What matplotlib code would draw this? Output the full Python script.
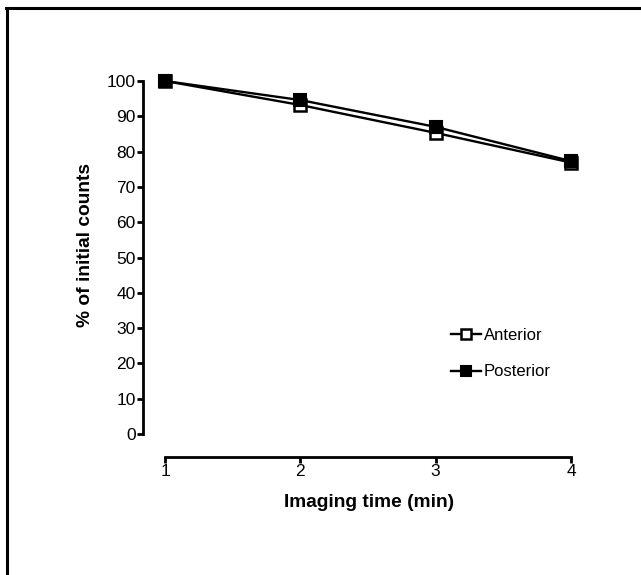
import matplotlib
matplotlib.use('Agg')
import matplotlib.pyplot as plt
from matplotlib.lines import Line2D

plt.rcParams['font.family'] = ['Liberation Sans', 'DejaVu Sans']

times = [1, 2, 3, 4]
anterior = [100, 93.2, 85.3, 76.9]
posterior = [100, 94.6, 87.0, 77.3]
yticks = list(range(0, 101, 10))

fig = plt.figure(figsize=(6.41, 5.75), dpi=100)
W, H = 641, 575

# outer frame (top and left edges only)
fig.add_artist(Line2D([6 / W, 1], [1 - 8 / H, 1 - 8 / H], color='black', lw=2.2, transform=fig.transFigure))
fig.add_artist(Line2D([7 / W, 7 / W], [0, 1 - 8 / H], color='black', lw=2.2, transform=fig.transFigure))

ax = fig.add_axes([165 / W, 1 - 434 / H, 406 / W, 353 / H])
ax.plot(times, anterior, color='black', lw=1.7, marker='s', ms=9,
        mfc='white', mec='black', mew=1.8, clip_on=False, label='Anterior', zorder=3)
ax.plot(times, posterior, color='black', lw=1.7, marker='s', ms=9,
        mfc='black', mec='black', mew=1.5, clip_on=False, label='Posterior', zorder=4)

ax.set_xlim(1, 4)
ax.set_ylim(0, 100)
ax.set_xticks(times)
ax.set_yticks(yticks)

for s in ['top', 'right']:
    ax.spines[s].set_visible(False)
ax.spines['left'].set_position(('outward', 16))
ax.spines['bottom'].set_position(('outward', 16.5))
ax.spines['left'].set_linewidth(2)
ax.spines['bottom'].set_linewidth(2)
ax.tick_params(width=2, length=4, labelsize=12.5, pad=1)

ax.set_xlabel('Imaging time (min)', fontsize=13.8, fontweight='bold')
ax.set_ylabel('% of initial counts', fontsize=13.8, fontweight='bold')
ax.xaxis.set_label_coords(0.502, -0.17)
ax.yaxis.set_label_coords(-0.176, 0.535)

ax.legend(loc='center left', bbox_to_anchor=(0.683, 0.228), frameon=False,
          borderpad=0, handlelength=1.8, handletextpad=0.2, labelspacing=1.3,
          fontsize=12, markerscale=0.8)

fig.savefig('out.png', dpi=100)
